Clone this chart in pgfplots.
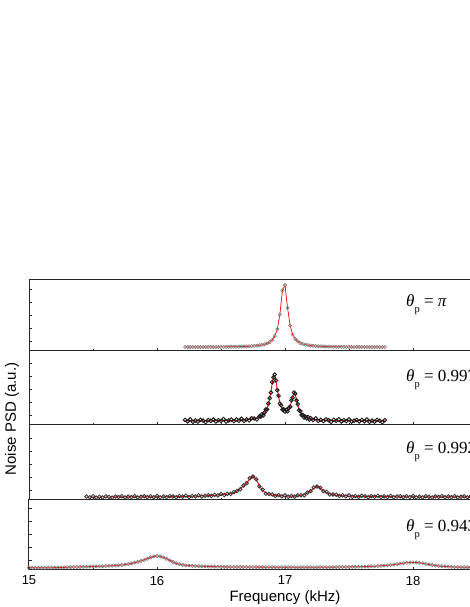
\documentclass[border=0pt]{standalone}
\usepackage{fontspec}
\setmainfont{Liberation Sans}
\newfontfamily\timesfont{Liberation Serif}
\usepackage{pgfplots}
\usepackage{pgfplotstable}
\pgfplotsset{compat=1.18}

% heights are in px above the bottom of each panel
\pgfplotstableread{
x y
16.22 3.97
16.24 3.97
16.26 3.98
16.28 3.98
16.30 3.99
16.32 3.99
16.34 4.00
16.36 4.01
16.38 4.02
16.40 4.03
16.42 4.04
16.44 4.05
16.46 4.07
16.48 4.08
16.50 4.09
16.52 4.12
16.54 4.15
16.56 4.18
16.58 4.22
16.60 4.26
16.62 4.31
16.64 4.37
16.66 4.44
16.68 4.52
16.70 4.62
16.72 4.75
16.74 4.90
16.76 5.10
16.78 5.30
16.80 5.70
16.82 6.10
16.84 6.70
16.86 7.60
16.88 8.90
16.90 11.1
16.92 14.9
16.94 21.9
16.96 36.5
16.98 60.5
17.00 66.0
17.02 43.0
17.04 25.5
17.06 16.5
17.08 12.0
17.10 9.5
17.12 7.9
17.14 7.0
17.16 6.3
17.18 5.8
17.20 5.4
17.22 5.2
17.24 4.95
17.26 4.80
17.28 4.66
17.30 4.55
17.32 4.46
17.34 4.39
17.36 4.33
17.38 4.28
17.40 4.23
17.42 4.19
17.44 4.16
17.46 4.13
17.48 4.10
17.50 4.08
17.52 4.06
17.54 4.05
17.56 4.03
17.58 4.02
17.60 4.01
17.62 4.00
17.64 3.99
17.66 3.98
17.68 3.98
17.70 3.97
17.72 3.97
17.74 3.96
17.76 3.96
17.78 3.96
}\dataA

\pgfplotstableread{
x fit data
16.22 4.14 5.0
16.24 4.15 3.5
16.26 4.16 5.6
16.28 4.17 3.1
16.30 4.18 4.5
16.32 4.19 3.4
16.34 4.21 5.2
16.36 4.22 4.4
16.38 4.24 2.9
16.40 4.25 5.0
16.42 4.27 4.1
16.44 4.29 5.5
16.46 4.32 3.4
16.48 4.34 4.8
16.50 4.37 4.0
16.52 4.41 5.9
16.54 4.45 3.5
16.56 4.50 4.6
16.58 4.56 5.4
16.60 4.63 3.9
16.62 4.72 5.6
16.64 4.81 4.2
16.66 4.93 6.3
16.68 5.08 4.0
16.70 5.26 5.6
16.72 5.52 4.7
16.74 5.83 6.8
16.76 6.28 6.5
16.78 6.92 5.6
16.80 7.87 8.6
16.81 8.53 8.3
16.82 9.38 10.6
16.83 10.47 9.6
16.84 11.92 12.4
16.85 13.89 15.4
16.86 16.64 15.6
16.87 20.46 21.5
16.88 25.8 26.8
16.89 33.1 32.4
16.90 41.6 42.8
16.91 48.5 47.6
16.92 49.3 50.5
16.93 43.6 44.5
16.94 35.3 34.8
16.95 28.0 29.2
16.96 22.5 21.4
16.97 18.8 19.6
16.98 16.4 15.3
16.99 14.8 15.6
17.00 14.1 13.4
17.01 14.0 15.2
17.02 14.65 13.7
17.03 16.2 17.0
17.04 18.9 18.3
17.05 23.1 24.6
17.06 28.3 27.3
17.07 31.8 32.5
17.08 30.5 31.3
17.09 25.4 24.7
17.10 19.9 20.8
17.11 15.6 14.6
17.12 12.75 13.9
17.13 10.75 10.0
17.14 9.35 10.1
17.15 8.36 7.4
17.16 7.62 8.2
17.17 7.06 6.6
17.18 6.63 7.9
17.19 6.28 5.4
17.20 6.02 6.9
17.22 5.60 5.0
17.24 5.30 6.7
17.26 5.09 4.0
17.28 4.92 5.2
17.30 4.80 4.0
17.32 4.70 5.7
17.34 4.61 4.8
17.36 4.55 3.2
17.38 4.49 5.2
17.40 4.44 4.2
17.42 4.40 5.6
17.44 4.37 3.5
17.46 4.34 4.8
17.48 4.31 3.9
17.50 4.28 5.8
17.52 4.26 3.3
17.54 4.24 4.3
17.56 4.22 5.0
17.58 4.20 3.5
17.60 4.19 5.1
17.62 4.18 3.6
17.64 4.17 5.6
17.66 4.16 3.1
17.68 4.15 4.5
17.70 4.14 3.3
17.72 4.14 5.1
17.74 4.13 4.3
17.76 4.12 2.8
17.78 4.12 4.8
}\dataB

\pgfplotstableread{
x fit data
15.450 3.00 3.5
15.475 3.00 2.6
15.500 3.00 3.8
15.525 3.00 2.4
15.550 3.00 3.2
15.575 3.02 2.5
15.600 3.03 3.6
15.625 3.04 3.1
15.650 3.05 2.4
15.675 3.06 3.5
15.700 3.07 3.0
15.725 3.08 3.8
15.750 3.09 2.6
15.775 3.10 3.4
15.800 3.10 2.8
15.825 3.11 3.9
15.850 3.12 2.5
15.875 3.14 3.2
15.900 3.15 3.7
15.925 3.16 2.8
15.950 3.18 3.7
15.975 3.19 2.8
16.000 3.20 4.0
16.025 3.23 2.6
16.050 3.26 3.5
16.075 3.30 2.8
16.100 3.33 3.9
16.125 3.37 3.5
16.150 3.41 2.7
16.175 3.45 3.9
16.200 3.50 3.4
16.225 3.56 4.3
16.250 3.63 3.1
16.275 3.71 4.0
16.300 3.80 3.5
16.325 3.92 4.7
16.350 4.05 3.5
16.375 4.17 4.3
16.400 4.30 4.8
16.425 4.50 4.1
16.450 4.72 5.2
16.475 4.95 4.6
16.500 5.20 6.0
16.525 5.55 5.0
16.550 6.00 6.2
16.575 6.60 6.1
16.600 7.30 7.9
16.625 8.80 8.9
16.650 11.5 10.8
16.675 14.0 14.4
16.700 17.0 16.9
16.725 21.0 21.7
16.750 24.0 23.5
16.775 20.5 20.8
16.800 14.0 13.7
16.825 9.5 10.3
16.850 7.0 6.4
16.875 5.8 5.9
16.900 5.0 5.5
16.925 4.6 4.2
16.950 4.3 4.8
16.975 4.05 3.65
17.000 3.90 4.7
17.025 3.85 3.25
17.050 3.80 4.0
17.075 3.90 3.4
17.100 4.20 4.8
17.125 4.70 4.8
17.150 5.50 4.8
17.175 7.00 7.4
17.200 9.00 8.9
17.225 11.8 12.5
17.250 14.0 13.5
17.275 12.0 12.3
17.300 9.2 8.9
17.325 7.4 8.2
17.350 6.1 5.5
17.375 5.4 5.5
17.400 4.8 5.3
17.425 4.5 4.1
17.450 4.2 4.7
17.475 4.05 3.65
17.500 3.90 4.7
17.525 3.80 3.2
17.550 3.70 3.9
17.575 3.65 3.15
17.600 3.60 4.2
17.625 3.55 3.65
17.650 3.50 2.8
17.675 3.45 3.85
17.700 3.40 3.3
17.725 3.38 4.1
17.750 3.36 2.9
17.775 3.34 3.6
17.800 3.32 3.0
17.825 3.30 4.1
17.850 3.29 2.7
17.875 3.28 3.4
17.900 3.27 3.8
17.925 3.26 2.9
17.950 3.25 3.75
17.975 3.24 2.85
18.000 3.22 4.0
18.025 3.21 2.6
18.050 3.20 3.4
18.075 3.20 2.7
18.100 3.19 3.8
18.125 3.18 3.3
18.150 3.18 2.5
18.175 3.17 3.6
18.200 3.16 3.1
18.225 3.16 3.9
18.250 3.15 2.7
18.275 3.15 3.5
18.300 3.14 2.8
18.325 3.14 3.9
18.350 3.13 2.5
18.375 3.13 3.2
18.400 3.12 3.6
18.425 3.12 2.7
18.450 3.11 3.6
18.475 3.11 2.7
18.500 3.10 3.9
}\dataC

\pgfplotstableread{
x y
15.000 2.20
15.025 2.20
15.050 2.20
15.075 2.20
15.100 2.25
15.125 2.25
15.150 2.30
15.175 2.30
15.200 2.35
15.225 2.40
15.250 2.50
15.275 2.60
15.300 2.75
15.325 2.90
15.350 3.00
15.375 3.05
15.400 3.10
15.425 3.20
15.450 3.30
15.475 3.40
15.500 3.50
15.525 3.60
15.550 3.70
15.575 3.80
15.600 4.00
15.625 4.15
15.650 4.30
15.675 4.50
15.700 4.70
15.725 5.00
15.750 5.40
15.775 5.90
15.800 6.50
15.825 7.30
15.850 8.10
15.875 9.10
15.900 10.1
15.925 11.3
15.950 12.6
15.975 13.5
16.000 14.0
16.025 13.7
16.050 12.6
16.075 11.2
16.100 9.6
16.125 8.0
16.150 6.7
16.175 5.8
16.200 5.1
16.225 4.7
16.250 4.4
16.275 4.2
16.300 4.0
16.325 3.85
16.350 3.70
16.375 3.60
16.400 3.50
16.425 3.42
16.450 3.35
16.475 3.28
16.500 3.20
16.525 3.15
16.550 3.10
16.575 3.07
16.600 3.04
16.625 3.02
16.650 3.00
16.675 2.98
16.700 2.96
16.725 2.94
16.750 2.92
16.775 2.90
16.800 2.88
16.825 2.86
16.850 2.84
16.875 2.82
16.900 2.80
16.925 2.79
16.950 2.78
16.975 2.77
17.000 2.76
17.025 2.75
17.050 2.74
17.075 2.73
17.100 2.72
17.125 2.71
17.150 2.70
17.175 2.70
17.200 2.70
17.225 2.72
17.250 2.74
17.275 2.76
17.300 2.78
17.325 2.80
17.350 2.83
17.375 2.86
17.400 2.90
17.425 2.95
17.450 3.00
17.475 3.05
17.500 3.10
17.525 3.15
17.550 3.20
17.575 3.25
17.600 3.30
17.625 3.40
17.650 3.50
17.675 3.65
17.700 3.80
17.725 4.00
17.750 4.20
17.775 4.45
17.800 4.70
17.825 5.00
17.850 5.35
17.875 5.80
17.900 6.30
17.925 6.80
17.950 7.20
17.975 7.50
18.000 7.60
18.025 7.50
18.050 7.20
18.075 6.70
18.100 6.10
18.125 5.50
18.150 5.00
18.175 4.50
18.200 4.10
18.225 3.80
18.250 3.55
18.275 3.35
18.300 3.15
18.325 3.00
18.350 2.90
18.375 2.80
18.400 2.75
18.425 2.70
18.450 2.65
18.475 2.60
18.500 2.60
}\dataD

\pgfplotsset{
  panel/.style={
    scale only axis, width=512pt, anchor=south west,
    xmin=15, xmax=19, ymin=0,
    xtick={15,16,17,18,19}, minor x tick num=1, xticklabels={},
    ytick={10,23,36,49,62}, yticklabels={},
    tick align=inside, xtick pos=left, ytick pos=left,
    major tick length=3pt, minor tick length=2pt,
    axis line style={black!85, line width=1pt},
    every tick/.style={black!85, line width=0.8pt},
    every minor tick/.style={black!85, line width=0.8pt},
    clip=false,
  },
  pts/.style={only marks, mark=o, mark size=1.7pt},
  fitline/.style={red, line width=0.9pt, mark=none},
}
\tikzset{
  theta/.style={anchor=base west, inner sep=0pt,
    font=\timesfont\fontsize{17}{17}\selectfont},
}
\newcommand{\tp}{\textit{θ}\raisebox{-6pt}{\fontsize{10.5}{10.5}\selectfont p}}

\begin{document}
\begin{tikzpicture}
% theta_p = pi
\begin{axis}[panel, at={(29pt,256pt)}, height=71pt, ymax=71]
\addplot[pts, black!55, mark options={line width=0.5pt}] table {\dataA};
\addplot[fitline, line width=0.7pt] table {\dataA};
\node[theta] at (axis cs:17.945,44.3) {\tp{} = \textit{π}};
\end{axis}

% theta_p = 0.997
\begin{axis}[panel, at={(29pt,182pt)}, height=74pt, ymax=74,
  ylabel={Noise PSD (a.u.)},
  ylabel style={at={(axis description cs:-0.0332,0.081)}, anchor=center,
    font=\fontsize{15}{15}\selectfont}]
\addplot[pts, black!90, mark size=1.8pt, mark options={line width=0.9pt}] table[y=data] {\dataB};
\addplot[fitline] table[y=fit] {\dataB};
\node[theta] at (axis cs:17.945,43.3) {\tp{} = 0.997};
\end{axis}

% theta_p = 0.992
\begin{axis}[panel, at={(29pt,107pt)}, height=75pt, ymax=75]
\addplot[pts, black!80, mark size=1.8pt, mark options={line width=0.8pt}] table[y=data] {\dataC};
\addplot[fitline] table[y=fit] {\dataC};
\node[theta] at (axis cs:17.945,46.7) {\tp{} = 0.992};
\end{axis}

% theta_p = 0.943
\begin{axis}[panel, at={(29pt,37pt)}, height=70pt, ymax=70,
  xticklabels={15,16,17,18,{}},
  xticklabel style={font=\fontsize{13}{13}\selectfont, yshift=-2.5pt},
  xlabel={Frequency (kHz)},
  xlabel style={at={(axis description cs:0.5,0)}, anchor=base,
    yshift=-31pt, font=\fontsize{15}{15}\selectfont}]
\addplot[pts, black!55, mark options={line width=0.5pt}] table {\dataD};
\addplot[fitline, line width=0.8pt] table {\dataD};
\node[theta] at (axis cs:17.945,38.3) {\tp{} = 0.943};
\end{axis}

\pgfresetboundingbox
\path[use as bounding box] (0pt,0pt) rectangle (469pt,607pt);
\end{tikzpicture}
\end{document}
